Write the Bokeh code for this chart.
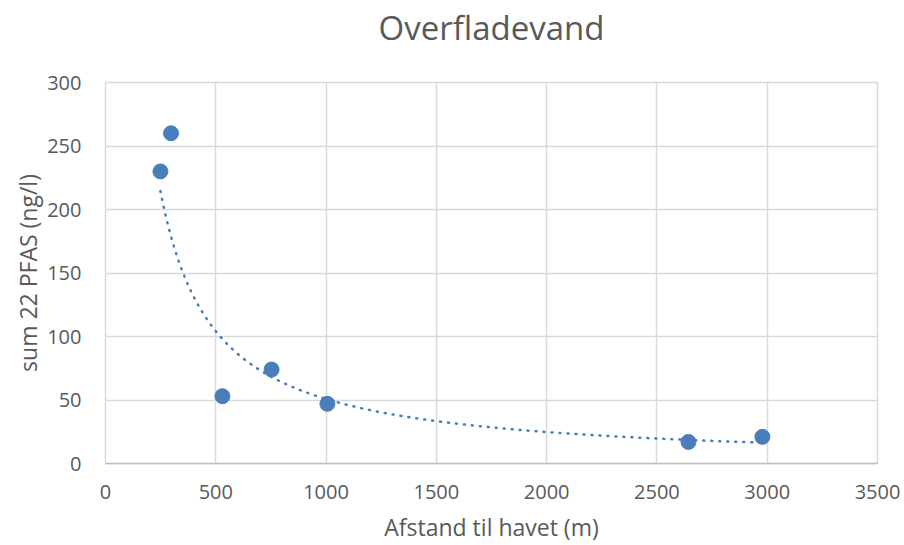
import numpy as np
from bokeh.plotting import figure
from bokeh.models import Range1d, FixedTicker, Title, LinearAxis
from bokeh.embed import file_html
from bokeh.resources import INLINE

distance_m = [249, 297, 530, 753, 1006, 2643, 2978]
sum_pfas = [230, 260, 53, 74, 47, 17, 21]
x_ticks = [0, 500, 1000, 1500, 2000, 2500, 3000, 3500]
y_ticks = [0, 50, 100, 150, 200, 250, 300]
title_text = "Overfladevand"

FONT = "Open Sans"
GRAY = "#595959"
BLUE = "#4a7ebb"

p = figure(width=904, height=545, output_backend="svg", toolbar_location=None,
           x_range=Range1d(0, 3500), y_range=Range1d(0, 300),
           min_border_left=105, min_border_right=27, min_border_top=82, min_border_bottom=82)
p.outline_line_color = "#d9d9d9"
p.outline_line_width = 1.5

xa = p.below[0]
ya = p.left[0]

# blank spacer axis above the frame (no ticks) to lift the title
spacer = LinearAxis(ticker=FixedTicker(ticks=[]), axis_line_color=None,
                    major_tick_line_color=None, minor_tick_line_color=None,
                    major_tick_out=0, minor_tick_out=0, major_tick_in=0, minor_tick_in=0,
                    major_label_standoff=0, axis_label=" ",
                    axis_label_text_font=FONT, axis_label_text_font_size="10px",
                    axis_label_standoff=11)
p.add_layout(spacer, "above")

title = Title(text=title_text, align="center", vertical_align="top", standoff=6,
              text_font=FONT, text_font_size="33px", text_font_style="normal",
              text_color=GRAY)
p.add_layout(title, "above")

for ax in (xa, ya):
    ax.major_tick_line_color = None
    ax.minor_tick_line_color = None
    ax.major_label_text_font = FONT
    ax.major_label_text_font_size = "20px"
    ax.major_label_text_color = GRAY
    ax.axis_label_text_font = FONT
    ax.axis_label_text_font_size = "23px"
    ax.axis_label_text_font_style = "normal"
    ax.axis_label_text_color = GRAY
    ax.axis_label_text_line_height = 0.8

xa.ticker = FixedTicker(ticks=x_ticks)
ya.ticker = FixedTicker(ticks=y_ticks)
xa.axis_label = "Afstand til havet (m)"
ya.axis_label = "sum 22 PFAS (ng/l)"
xa.axis_line_color = "#bfbfbf"
xa.axis_line_width = 1.5
ya.axis_line_color = None
xa.major_label_standoff = 15
ya.major_label_standoff = 18
xa.axis_label_standoff = 9
ya.axis_label_standoff = 0

p.xgrid.ticker = FixedTicker(ticks=x_ticks)
p.ygrid.ticker = FixedTicker(ticks=y_ticks)
p.grid.grid_line_color = "#d9d9d9"
p.grid.grid_line_width = 1.5

# power trendline fitted to the data (like Excel's power trendline)
lx = np.log(np.array(distance_m, dtype=float))
ly = np.log(np.array(sum_pfas, dtype=float))
b, ln_a = np.polyfit(lx, ly, 1)
xt = np.linspace(min(distance_m), max(distance_m), 300)
yt = np.exp(ln_a) * xt ** b
p.line(xt, yt, line_color=BLUE, line_width=2.5, line_dash="1 7", line_cap="round")

p.scatter(distance_m, sum_pfas, size=15, fill_color=BLUE, line_color=BLUE)

open("out.html", "w").write(file_html(p, INLINE))
